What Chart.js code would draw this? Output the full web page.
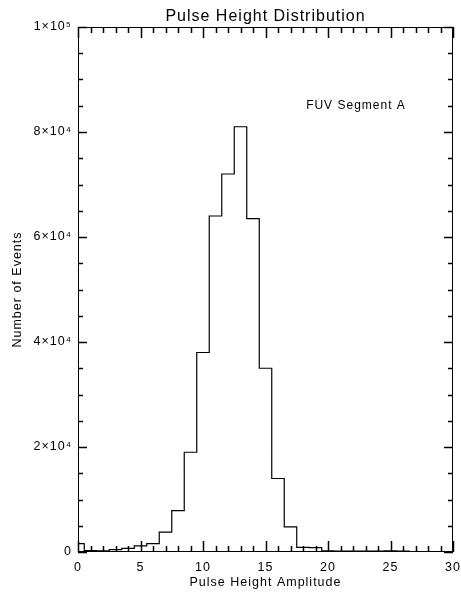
<!DOCTYPE html>
<html>
<head>
<meta charset="utf-8">
<title>Pulse Height Distribution</title>
<script src="https://cdn.jsdelivr.net/npm/chart.js@4/dist/chart.umd.min.js"></script>
<style>
  html, body { margin: 0; padding: 0; background: #fff; overflow: hidden; }
  #wrap { width: 461px; height: 594px; position: relative; }
</style>
</head>
<body>
<div id="wrap"><canvas id="phd-chart"></canvas></div>
<script>
// pulse height bins (bin centres) and event counts per bin
const amplitude = [0, 1, 2, 3, 4, 5, 6, 7, 8, 9, 10, 11, 12, 13, 14, 15,
                   16, 17, 18, 19, 20, 21, 22, 23, 24, 25, 26, 27, 28, 29, 30];
const events = [1600, 250, 200, 450, 700, 1150, 1600, 3800, 7900, 19000, 38000,
                64000, 72000, 81000, 63500, 35000, 14000, 4800, 900, 850, 200,
                150, 150, 150, 150, 200, 150, 100, 100, 50, 0];

const xTicks = [0, 5, 10, 15, 20, 25, 30];
const yTicks = [0, 20000, 40000, 60000, 80000, 100000];
const yTickLabels = ['0', '2×10⁴', '4×10⁴', '6×10⁴', '8×10⁴', '1×10⁵'];

const FONT = "'Liberation Sans', Arial, Helvetica, sans-serif";

// IDL style frame: box on all four sides with inward major/minor ticks
const idlAxes = {
  id: 'idlAxes',
  beforeDraw(chart) {
    chart.ctx.letterSpacing = '1px';
  },
  afterDraw(chart) {
    const c = chart.ctx;
    const a = chart.chartArea;
    const xs = chart.scales.x, ys = chart.scales.y;
    const L = Math.round(a.left), R = Math.round(a.right) - 1;
    const T = Math.round(a.top), B = Math.round(a.bottom) - 1;

    c.save();
    c.fillStyle = '#000';
    // frame
    c.fillRect(L, T, R - L + 1, 1);
    c.fillRect(L, B, R - L + 1, 1);
    c.fillRect(L, T, 1, B - T + 1);
    c.fillRect(R, T, 1, B - T + 1);

    c.strokeStyle = '#000';
    c.lineWidth = 1.5;
    c.beginPath();
    // x ticks, bottom and top
    for (let v = xs.min; v <= xs.max; v++) {
      const px = Math.round(xs.getPixelForValue(v)) + 0.5;
      const len = v % 5 === 0 ? 10 : 5;
      c.moveTo(px, B + 1);
      c.lineTo(px, B - len);
      c.moveTo(px, T);
      c.lineTo(px, T + len + 1);
    }
    // y ticks, left and right
    for (let v = ys.min; v <= ys.max; v += 5000) {
      const py = Math.round(ys.getPixelForValue(v)) + 0.5;
      const len = v % 20000 === 0 ? 8 : 4;
      c.moveTo(L, py);
      c.lineTo(L + len + 1, py);
      c.moveTo(R + 1, py);
      c.lineTo(R - len, py);
    }
    c.stroke();

    c.font = '12px ' + FONT;
    c.textBaseline = 'alphabetic';
    c.textAlign = 'left';
    c.fillText('FUV Segment A', xs.getPixelForValue(18.25), ys.getPixelForValue(84300));
    c.restore();
  }
};

const ctx = document.getElementById('phd-chart').getContext('2d');

const config = {
  type: 'line',
  data: {
    datasets: [{
      label: 'FUV Segment A',
      data: amplitude.map((a, i) => ({ x: a, y: events[i] })),
      stepped: 'middle',
      borderColor: '#000',
      borderWidth: 1.2,
      pointRadius: 0,
      fill: false
    }]
  },
  options: {
    responsive: true,
    maintainAspectRatio: false,
    animation: false,
    events: [],
    layout: { padding: { left: 0, right: 8, top: 0, bottom: 0 } },
    plugins: {
      legend: { display: false },
      tooltip: { enabled: false },
      title: {
        display: true,
        fullSize: false,
        text: 'Pulse Height Distribution',
        color: '#000',
        font: { family: FONT, size: 16, weight: 'normal', lineHeight: 1.125 },
        padding: { top: 8, bottom: 1 }
      }
    },
    scales: {
      x: {
        type: 'linear',
        min: 0,
        max: 30,
        afterBuildTicks: s => { s.ticks = xTicks.map(v => ({ value: v })); },
        afterFit: s => { s.height = 42; s.paddingLeft = 0; s.paddingRight = 0; },
        grid: { display: false, drawTicks: false },
        border: { display: false },
        ticks: {
          color: '#000',
          padding: 8,
          maxRotation: 0,
          font: { family: FONT, size: 12.5 }
        },
        title: {
          display: true,
          text: 'Pulse Height Amplitude',
          color: '#000',
          font: { family: FONT, size: 12.5 },
          padding: { top: 0, bottom: 4 }
        }
      },
      y: {
        min: 0,
        max: 100000,
        afterBuildTicks: s => { s.ticks = yTicks.map(v => ({ value: v })); },
        afterFit: s => { s.width = 78; s.paddingTop = 0; s.paddingBottom = 0; },
        grid: { display: false, drawTicks: false },
        border: { display: false },
        ticks: {
          color: '#000',
          padding: 6,
          font: { family: FONT, size: 12.5 },
          callback: value => yTickLabels[yTicks.indexOf(value)]
        },
        title: {
          display: true,
          text: 'Number of Events',
          color: '#000',
          font: { family: FONT, size: 12.5 },
          padding: { top: 10, bottom: 0 }
        }
      }
    }
  },
  plugins: [idlAxes]
};

const phdChart = new Chart(ctx, config);
</script>
</body>
</html>
